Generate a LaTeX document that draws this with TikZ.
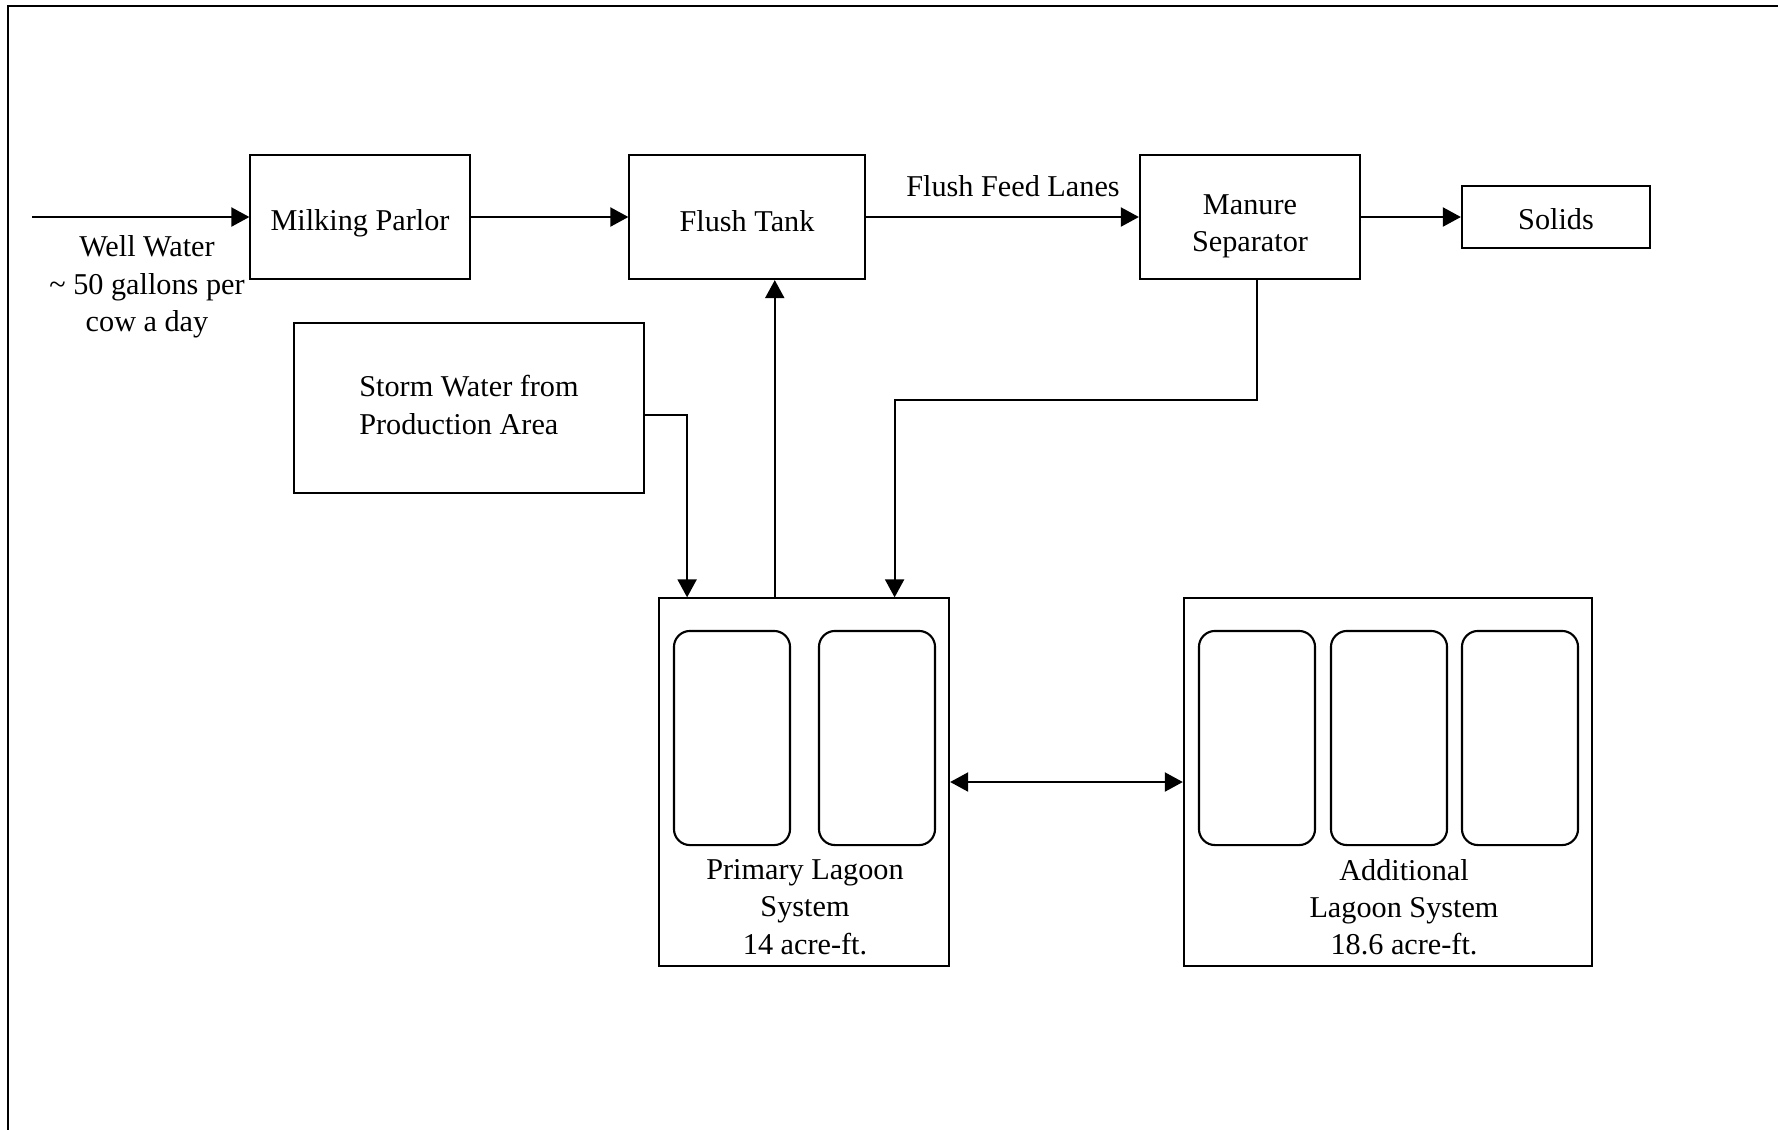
\documentclass[tikz,border=0pt]{standalone}
\usepackage{fontspec}
\setmainfont{Liberation Serif}
\usetikzlibrary{calc,positioning,arrows.meta}
\tikzset{
  unit box/.style={draw, line width=0.6pt, inner sep=0pt},
  pond/.style={draw, line width=0.6pt, rounded corners=1.6mm,
    minimum width=1.16cm, minimum height=2.14cm},
  plain text/.style={align=center, inner sep=0pt},
  flow/.style={line width=0.6pt, -{Triangle[length=1.8mm,width=1.9mm]}},
  both ways/.style={line width=0.6pt,
    {Triangle[length=1.8mm,width=1.9mm]}-{Triangle[length=1.8mm,width=1.9mm]}}
}

\begin{document}
\begin{tikzpicture}[x=0.01cm,y=-0.01cm,font=\fontsize{8.6}{10.6}\selectfont]
  \useasboundingbox (0,0) rectangle (1778,1129);
  \draw[line width=0.6pt] (8,6) rectangle (1800,1150);

  % top row
  \node (parlor) [unit box,minimum width=2.19cm,minimum height=1.24cm] at (360,217) {};
  \node (parlor_label) [plain text,yshift=-0.065cm] at (parlor) {Milking Parlor};
  \node (flushtank) [unit box,minimum width=2.35cm,minimum height=1.24cm] at (747,217) {};
  \node (flushtank_label) [plain text,yshift=-0.045cm] at (flushtank) {Flush Tank};
  \node (separator) [unit box,minimum width=2.2cm,minimum height=1.24cm] at (1250,217) {};
  \node (separator_label) [plain text,yshift=-0.09cm] at (separator) {Manure\\Separator};
  \node (solids) [unit box,minimum width=1.88cm,minimum height=0.62cm] at (1556,217) {};
  \node (solids_label) [plain text,yshift=-0.02cm] at (solids) {Solids};
  \node (storm) [unit box,minimum width=3.5cm,minimum height=1.7cm] at (469,408) {};
  \node (storm_label) [plain text,align=left,yshift=0.03cm] at (storm) {Storm Water from\\Production Area};

  \coordinate (inlet) at (32,217);
  \node (wellwater) [plain text] at (147,287) {Well Water\\\textasciitilde{} 50 gallons per\\cow a day};
  \node (feedlanes) [plain text] at (1013,186) {Flush Feed Lanes};

  % lagoons
  \node (primary) [unit box,minimum width=2.9cm,minimum height=3.67cm] at (804,782) {};
  \node (primary_a) [pond] at (732,738) {};
  \node (primary_b) [pond] at (877,738) {};
  \node (primary_label) [plain text] at (805,907) {Primary Lagoon\\System\\14 acre-ft.};

  \node (additional) [unit box,minimum width=4.08cm,minimum height=3.67cm] at (1388,782) {};
  \node (additional_a) [pond] at (1257,738) {};
  \node (additional_b) [pond] at (1389,738) {};
  \node (additional_c) [pond] at (1520,738) {};
  \node (additional_label) [plain text] at (1404,907) {Additional\\Lagoon System\\18.6 acre-ft.};

  \coordinate (primary_in1) at ($(primary.north west)!0.1!(primary.north east)$);
  \coordinate (primary_out) at ($(primary.north west)!0.4!(primary.north east)$);
  \coordinate (primary_in2) at ($(primary.north west)!0.81!(primary.north east)$);

  % connectors
  \draw[flow] (inlet) -- (parlor);
  \draw[flow] (parlor) -- (flushtank);
  \draw[flow] (flushtank) -- (separator);
  \draw[flow] (separator) -- (solids);
  \draw[flow] ([yshift=-0.07cm]storm.east) -| (primary_in1);
  \draw[flow] (primary_out) -- (primary_out |- flushtank.south);
  \draw[flow] ([xshift=0.07cm]separator.south) -- ++(0,120) -| (primary_in2);
  \draw[both ways] (primary) -- (additional);
\end{tikzpicture}
\end{document}
